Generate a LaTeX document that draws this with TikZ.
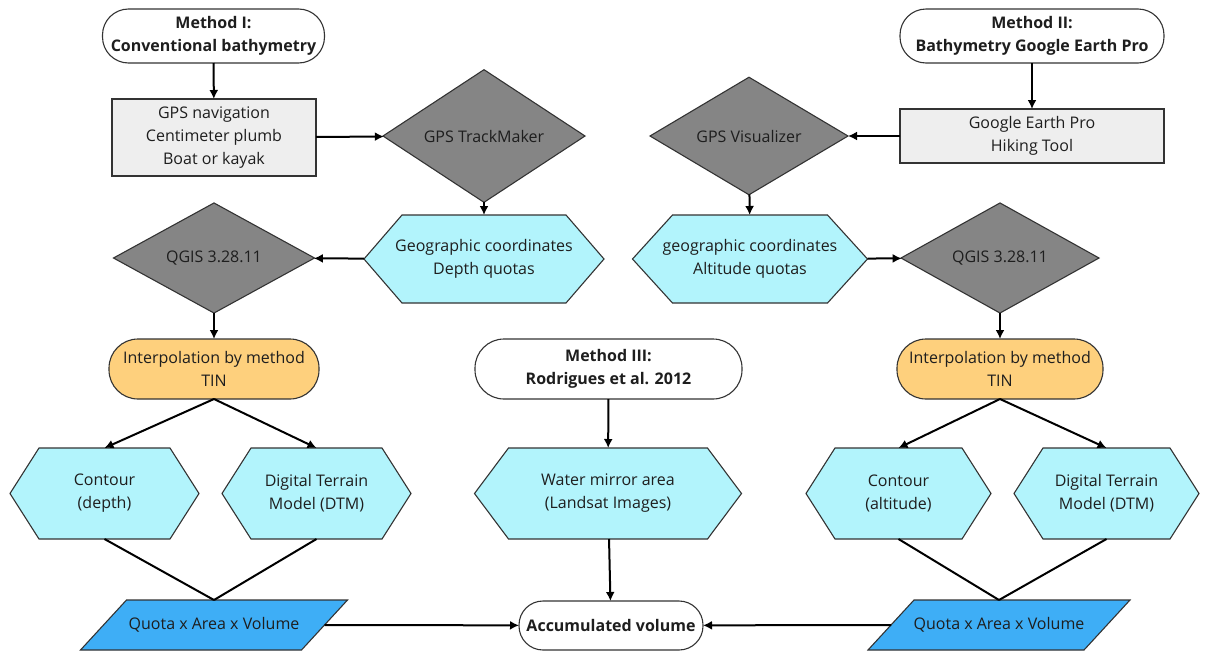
\documentclass[tikz,border=0pt]{standalone}
\usepackage{fontspec}
\setmainfont{Open Sans}
\usetikzlibrary{arrows.meta,shapes.geometric,backgrounds}
\definecolor{txt}{HTML}{1E1E1E}
\definecolor{edge}{HTML}{333333}
\definecolor{boxgray}{HTML}{EEEEEE}
\definecolor{toolgray}{HTML}{858585}
\definecolor{hexcyan}{HTML}{B2F4FC}
\definecolor{interporange}{HTML}{FED07D}
\definecolor{quotablue}{HTML}{3EAEF6}

\begin{document}
\begin{tikzpicture}[
  x=1pt, y=-1pt,
  > = {Latex[length=9pt,width=9pt]},
  every node/.style = {font=\fontsize{16}{23}\selectfont, text=txt, align=center, inner sep=0pt, outer sep=0pt},
  term/.style = {draw=edge, line width=1.1pt, fill=white, rounded corners=26pt, font=\fontsize{16}{23}\selectfont\bfseries},
  inputbox/.style = {draw=edge, line width=1.1pt, fill=boxgray},
  tool/.style = {diamond, draw=edge, line width=1.1pt, fill=toolgray},
  interp/.style = {draw=edge, line width=1.1pt, fill=interporange, rounded corners=29pt},
  hexfill/.style = {draw=edge, line width=1.1pt, fill=hexcyan},
  parafill/.style = {draw=edge, line width=1.1pt, fill=quotablue},
  flow/.style = {->, line width=2pt},
  link/.style = {line width=2pt}
  ]
	\useasboundingbox (0,0) rectangle (1211,651);

	% method I
	\node[term, minimum width=222pt, minimum height=54pt] (m1) at (213.5,36) {Method I:\\Conventional bathymetry};
	\node[inputbox, minimum width=204pt, minimum height=77pt] (gpsnav) at (214,137.5) {GPS navigation\\Centimeter plumb\\Boat or kayak};
	\node[tool, minimum width=202pt, minimum height=98pt] (trackmaker) at (484,136) {GPS TrackMaker};
	\node[minimum width=240pt, minimum height=88pt] (geoL) at (484,259) {Geographic coordinates\\Depth quotas};
	\node[tool, minimum width=201pt, minimum height=94pt] (qgisL) at (214,258) {QGIS 3.28.11};
	\node[interp, minimum width=210pt, minimum height=60pt] (interpL) at (214,369) {Interpolation by method\\TIN};
	\node[minimum width=189pt, minimum height=91pt] (contourL) at (104.5,493.5) {Contour\\(depth)};
	\node[minimum width=189pt, minimum height=91pt] (dtmL) at (316.5,493.5) {Digital Terrain\\Model (DTM)};
	\node[minimum width=267pt, minimum height=50pt] (quotaL) at (214,625) {Quota x Area x Volume};

	% method II
	\node[term, minimum width=264pt, minimum height=54pt] (m2) at (1032,36) {Method II:\\Bathymetry Google Earth Pro};
	\node[inputbox, minimum width=264pt, minimum height=54pt] (gearth) at (1032,136) {Google Earth Pro\\Hiking Tool};
	\node[tool, minimum width=198pt, minimum height=98pt] (visualizer) at (749,136) {GPS Visualizer};
	\node[minimum width=235pt, minimum height=88pt] (geoR) at (750,259) {geographic coordinates\\Altitude quotas};
	\node[tool, minimum width=198pt, minimum height=94pt] (qgisR) at (1000,258) {QGIS 3.28.11};
	\node[interp, minimum width=206pt, minimum height=60pt] (interpR) at (1000,369) {Interpolation by method\\TIN};
	\node[minimum width=185pt, minimum height=91pt] (contourR) at (898.5,493.5) {Contour\\(altitude)};
	\node[minimum width=185pt, minimum height=91pt] (dtmR) at (1106.5,493.5) {Digital Terrain\\Model (DTM)};
	\node[minimum width=262pt, minimum height=50pt] (quotaR) at (999,625) {Quota x Area x Volume};

	% method III
	\node[term, rounded corners=29pt, minimum width=267pt, minimum height=60pt] (m3) at (608.5,369) {Method III:\\Rodrigues et al. 2012};
	\node[minimum width=267pt, minimum height=91pt] (water) at (608,493.5) {Water mirror area\\(Landsat Images)};
	\node[term, rounded corners=24pt, minimum width=184pt, minimum height=49pt] (accum) at (611,625.5) {Accumulated volume};

	\begin{scope}[on background layer]
	\foreach \n/\i in {geoL/38,geoR/40,contourL/29,dtmL/29,water/34,contourR/29,dtmR/29}
		\draw[hexfill] (\n.west) -- ([xshift=\i pt]\n.north west) -- ([xshift=-\i pt]\n.north east) -- (\n.east) -- ([xshift=-\i pt]\n.south east) -- ([xshift=\i pt]\n.south west) -- cycle;
	\foreach \n in {quotaL,quotaR}
		\draw[parafill] ([xshift=46pt]\n.north west) -- (\n.north east) -- ([xshift=-46pt]\n.south east) -- (\n.south west) -- cycle;
	\end{scope}

	\draw[flow] (m1) -- (gpsnav);
	\draw[flow] (gpsnav) -- (trackmaker);
	\draw[flow] (trackmaker) -- (geoL);
	\draw[flow] (geoL) -- (qgisL);
	\draw[flow] (qgisL) -- (interpL);
	\draw[flow] (interpL.south) -- (contourL.north);
	\draw[flow] (interpL.south) -- (dtmL.north);
	\draw[link] (contourL.south) -- (quotaL.north);
	\draw[link] (dtmL.south) -- (quotaL.north);
	\draw[flow] ([xshift=-23pt]quotaL.east) -- (accum);

	\draw[flow] (m2) -- (gearth);
	\draw[flow] (gearth) -- (visualizer);
	\draw[flow] (visualizer) -- (geoR);
	\draw[flow] (geoR) -- (qgisR);
	\draw[flow] (qgisR) -- (interpR);
	\draw[flow] (interpR.south) -- (contourR.north);
	\draw[flow] (interpR.south) -- (dtmR.north);
	\draw[link] (contourR.south) -- (quotaR.north);
	\draw[link] (dtmR.south) -- (quotaR.north);
	\draw[flow] ([xshift=23pt]quotaR.west) -- (accum);

	\draw[flow] (m3) -- (water);
	\draw[flow] (water) -- (accum);

\end{tikzpicture}
\end{document}
